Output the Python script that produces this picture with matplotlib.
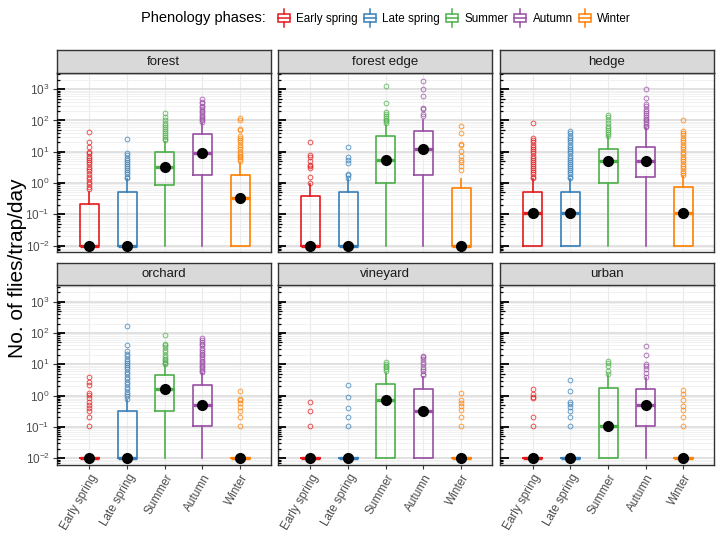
import matplotlib
matplotlib.use('Agg')
import matplotlib.pyplot as plt
from matplotlib.legend_handler import HandlerBase
from matplotlib.patches import Rectangle
from matplotlib.lines import Line2D
from matplotlib.ticker import LogLocator, NullFormatter

plt.rcParams['font.family'] = ['Liberation Sans', 'DejaVu Sans']
plt.rcParams['mathtext.fontset'] = 'custom'
plt.rcParams['mathtext.rm'] = 'Liberation Sans'
plt.rcParams['mathtext.it'] = 'Liberation Sans:italic'

phases = ['Early spring', 'Late spring', 'Summer', 'Autumn', 'Winter']
habitats = ['forest', 'forest edge', 'hedge', 'orchard', 'vineyard', 'urban']
colors = ['#E41A1C', '#377EB8', '#4DAF4A', '#984EA3', '#FF7F00']

# box stats per habitat (rows) and phase (columns), flies/trap/day
whislo = [[0.01] * 5 for _ in range(6)]
q1 = [
    [0.01, 0.01, 0.89, 1.8, 0.01],
    [0.01, 0.01, 0.98, 1.74, 0.01],
    [0.01, 0.01, 1.0, 1.58, 0.01],
    [0.01, 0.01, 0.32, 0.107, 0.01],
    [0.01, 0.01, 0.01, 0.01, 0.01],
    [0.01, 0.01, 0.01, 0.107, 0.01],
]
medians = [
    [0.01, 0.01, 3.3, 9.1, 0.32],
    [0.01, 0.01, 5.5, 12.3, 0.01],
    [0.11, 0.11, 5.0, 5.0, 0.11],
    [0.01, 0.01, 1.6, 0.5, 0.01],
    [0.01, 0.01, 0.71, 0.31, 0.01],
    [0.01, 0.01, 0.11, 0.5, 0.01],
]
q3 = [
    [0.21, 0.51, 9.6, 37, 1.8],
    [0.38, 0.51, 31, 45, 0.68],
    [0.51, 0.51, 12.3, 14, 0.74],
    [0.01, 0.32, 4.6, 2.2, 0.01],
    [0.01, 0.01, 2.35, 1.6, 0.01],
    [0.01, 0.01, 1.7, 1.6, 0.01],
]
whishi = [
    [0.5, 1.3, 21, 83, 4.5],
    [0.95, 1.3, 73, 106, 1.3],
    [1.3, 1.3, 31, 57, 1.7],
    [0.01, 0.73, 9.5, 5.2, 0.01],
    [0.01, 0.01, 5.2, 4.0, 0.01],
    [0.01, 0.01, 4.5, 3.6, 0.01],
]

fliers_forest = [
    [0.65, 0.75, 0.9, 1.1, 1.3, 1.6, 2, 2.4, 2.8, 3.3, 4, 4.6, 5.5, 6.5, 7.5, 9, 10, 14, 21, 43],
    [1.4, 1.6, 1.9, 2.2, 2.6, 3, 3.5, 4, 4.7, 5.5, 6.5, 8, 9, 25],
    [23, 26, 30, 35, 40, 46, 52, 60, 70, 85, 100, 130, 170],
    [90, 100, 110, 125, 140, 160, 180, 200, 230, 260, 300, 350, 400, 480],
    [5, 5.8, 6.6, 7.5, 8.5, 10, 12, 14, 17, 20, 24, 28, 32, 50, 55, 100, 120],
]
fliers_edge = [
    [1.0, 1.57, 3.0, 3.4, 3.9, 5.0, 6.8, 8.1, 21],
    [1.47, 1.78, 2.0, 4.4, 5.6, 6.8, 13.9],
    [82, 95, 105, 120, 135, 160, 190, 350, 1250],
    [140, 160, 234, 250, 615, 1000, 1850],
    [2.6, 3.4, 4.8, 5.3, 7.5, 10.3, 16, 17.5, 40, 68],
]
fliers_hedge = [
    [1.4, 1.6, 1.9, 2.2, 2.6, 3, 3.5, 4, 4.7, 5.5, 6.5, 7.5, 9, 10.5, 12, 14, 17, 20, 24, 27, 82],
    [1.4, 1.6, 1.9, 2.2, 2.6, 3, 3.5, 4, 4.7, 5.5, 6.5, 7.5, 9, 10.5, 12, 14, 17, 20, 24, 28, 33, 40, 47],
    [33, 38, 44, 50, 58, 68, 80, 100, 125, 152],
    [60, 68, 78, 90, 100, 115, 130, 150, 175, 200, 240, 290, 330, 516, 1000],
    [1.8, 2.1, 2.5, 3, 3.5, 4.2, 5, 6, 7, 8.5, 10, 12, 14, 17, 20, 24, 28, 34, 40, 47, 100],
]
fliers_orchard = [
    [0.11, 0.21, 0.31, 0.4, 0.5, 0.64, 0.82, 1.05, 1.18, 2.2, 2.7, 3.85],
    [0.8, 0.95, 1.1, 1.3, 1.6, 1.9, 2.3, 2.8, 3.3, 4, 4.8, 5.7, 6.8, 8, 9.5, 11, 12.5, 15, 18, 22, 26, 40, 170],
    [10, 11, 12, 13.5, 15, 17, 20, 24, 28, 35, 40, 46, 87],
    [5.5, 6.2, 7, 8, 9, 10, 11.5, 13, 15, 17, 19.5, 22, 25, 29, 34, 40, 46, 52, 60, 68],
    [0.11, 0.21, 0.31, 0.42, 0.56, 0.7, 0.8, 1.4],
]
fliers_vineyard = [
    [0.11, 0.31, 0.63],
    [0.11, 0.21, 0.41, 0.91, 2.1],
    [6, 7, 8, 9, 10, 12.2],
    [4.5, 5, 6, 7, 8, 10, 12, 15, 17, 19],
    [0.11, 0.21, 0.35, 0.45, 0.57, 0.72, 1.2],
]
fliers_urban = [
    [0.11, 0.21, 0.82, 0.92, 1.1, 1.6],
    [0.11, 0.21, 0.32, 0.42, 0.54, 0.64, 1.4, 3.1],
    [5.0, 6.3, 8.5, 10.7, 13],
    [4, 5.4, 6.9, 8.5, 10, 20, 38],
    [0.11, 0.21, 0.35, 0.45, 0.72, 1.1, 1.5],
]
fliers = [fliers_forest, fliers_edge, fliers_hedge, fliers_orchard, fliers_vineyard, fliers_urban]

ytick_vals = [1e-2, 1e-1, 1e0, 1e1, 1e2, 1e3]
ytick_labels = [r'$10^{-2}$', r'$10^{-1}$', r'$10^{0}$', r'$10^{1}$', r'$10^{2}$', r'$10^{3}$']


class BoxHandler(HandlerBase):
    def create_artists(self, legend, orig_handle, xdescent, ydescent, width, height, fontsize, trans):
        c = orig_handle.get_color()
        cx = xdescent + width / 2
        w = width * 0.8
        y0 = -ydescent
        box = Rectangle((cx - w / 2, y0 + height * 0.15), w, height * 0.7, fill=False,
                        edgecolor=c, lw=1.1, transform=trans)
        mid = Line2D([cx - w / 2, cx + w / 2], [y0 + height * 0.5] * 2, color=c, lw=1.1, transform=trans)
        top = Line2D([cx, cx], [y0 + height * 0.85, y0 + height * 1.25], color=c, lw=1.1, transform=trans)
        bot = Line2D([cx, cx], [y0 - height * 0.25, y0 + height * 0.15], color=c, lw=1.1, transform=trans)
        return [box, mid, top, bot]


fig = plt.figure(figsize=(7.22, 5.36), dpi=100)

lefts = [0.0785, 0.3846, 0.6925]
bottoms = [0.529, 0.1325]
pw, ph = 0.2964, 0.335
strip_h = 0.042
ylo, yhi = 10 ** -2.22, 10 ** 3.52

for i, hab in enumerate(habitats):
    r, c = divmod(i, 3)
    ax = fig.add_axes([lefts[c], bottoms[r], pw, ph])
    ax.set_yscale('log')
    ax.set_ylim(ylo, yhi)
    ax.set_xlim(0.13, 5.81)
    ax.set_facecolor('white')
    ax.set_axisbelow(True)

    for j in range(5):
        st = [dict(whislo=whislo[i][j], q1=q1[i][j], med=medians[i][j], q3=q3[i][j],
                   whishi=whishi[i][j], fliers=fliers[i][j])]
        col = colors[j]
        ax.bxp(st, positions=[j + 1], widths=0.5, showcaps=False,
               boxprops=dict(color=col, lw=1.2),
               whiskerprops=dict(color=col, lw=1.2),
               medianprops=dict(color=col, lw=2.4, solid_capstyle='butt'),
               flierprops=dict(marker='o', markerfacecolor='none', markeredgecolor=col,
                               markersize=3.4, markeredgewidth=0.7, alpha=0.75))
        ax.plot(j + 1, medians[i][j], 'o', color='black', ms=7, zorder=5)

    # log ticks inside left edge
    tr = ax.get_yaxis_transform()
    for k in range(-3, 4):
        for m in range(1, 10):
            v = m * 10 ** k
            if v < ylo or v > yhi:
                continue
            if m == 1:
                ln, lw = 0.04, 1.3
            elif m == 5:
                ln, lw = 0.022, 0.9
            else:
                ln, lw = 0.014, 0.9
            ax.plot([0, ln], [v, v], color='black', lw=lw, transform=tr, zorder=4,
                    solid_capstyle='butt')

    ax.yaxis.set_minor_locator(LogLocator(base=10, subs=range(2, 10), numticks=20))
    ax.yaxis.set_minor_formatter(NullFormatter())
    ax.set_yticks(ytick_vals)
    ax.grid(axis='y', which='major', color='#D9D9D9', lw=1.1)
    ax.grid(axis='y', which='minor', color='#EFEFEF', lw=0.6)
    ax.grid(axis='x', which='major', color='#EBEBEB', lw=0.8)
    ax.set_xticks(range(1, 6))
    ax.tick_params(which='minor', length=0)
    ax.tick_params(which='major', length=3, color='#333333', width=0.8, pad=2)

    if c == 0:
        ax.set_yticklabels(ytick_labels, fontsize=8.5, color='#4D4D4D')
    else:
        ax.set_yticklabels([])
        ax.tick_params(axis='y', which='major', length=0)
    if r == 1:
        ax.set_xticklabels(phases, rotation=60, ha='right', rotation_mode='anchor',
                           fontsize=8.5, color='#4D4D4D')
    else:
        ax.set_xticklabels([])
        ax.tick_params(axis='x', which='major', length=0)

    for s in ax.spines.values():
        s.set_color('#333333')
        s.set_linewidth(1.0)

    sax = fig.add_axes([lefts[c], bottoms[r] + ph, pw, strip_h])
    sax.set_facecolor('#D9D9D9')
    sax.set_xticks([])
    sax.set_yticks([])
    for s in sax.spines.values():
        s.set_color('#333333')
        s.set_linewidth(1.0)
    sax.text(0.5, 0.5, hab, ha='center', va='center', fontsize=9.5, color='#1A1A1A',
             transform=sax.transAxes)

fig.text(0.024, 0.5, 'No. of flies/trap/day', rotation=90, ha='center', va='center', fontsize=15)

handles = [Line2D([], [], color=col) for col in colors]
fig.text(0.368, 0.966, 'Phenology phases:', ha='right', va='center', fontsize=10.5)
fig.legend(handles, phases, handler_map={Line2D: BoxHandler()}, loc='center left',
           bbox_to_anchor=(0.371, 0.966), ncol=5, frameon=False, fontsize=8.4,
           handlelength=1.3, handleheight=1.2, handletextpad=0.4, columnspacing=0.4,
           borderpad=0.2)

fig.savefig('out.png', dpi=100)
